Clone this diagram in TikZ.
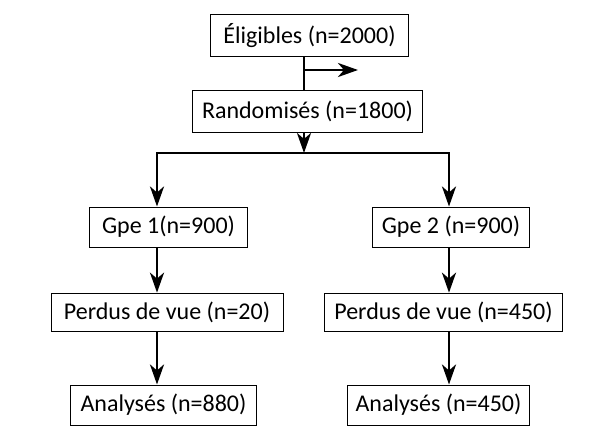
\documentclass[tikz,border=0pt]{standalone}
\usepackage{fontspec}
\setmainfont{Carlito}
\usetikzlibrary{arrows.meta}

\begin{document}
\begin{tikzpicture}[
      x = 0.75pt, y = -0.75pt,
      font = \fontsize{18}{21}\selectfont,
      box/.style  = {draw = black, line width = .75pt, inner sep = 0pt,
                     minimum height = 30pt},
      wire/.style = {line width = 2.2pt, line cap = rect},
      arr/.style  = {-{Stealth[length = 15pt, width = 10.5pt, inset = 4.5pt]},
                     line width = 2.2pt}
    ]
  \useasboundingbox (0,0) rectangle (590,439);

  % top -----------------------------------------------------------------
  \node[box, minimum width = 148pt, minimum height = 31pt] (elig) at (309.5,35.5)
        {Éligibles (n=2000)};
  \node[box, minimum width = 172pt, minimum height = 32pt] (rand) at (307.5,111.5)
        {Randomisés (n=1800)};

  \coordinate (side) at (304,70);
  \coordinate (exit) at (358,70);
  \coordinate (bar)  at (304,153);
  \coordinate (barL) at (157,153);
  \coordinate (barR) at (449,153);

  \draw[wire, line cap = butt] (elig.south -| bar) -- (rand.north -| bar);
  \draw[arr] (side) -- (exit);
  \draw[arr] (rand.south -| bar) -- (bar);
  \draw[wire] (barL) -- (barR);

  % groups --------------------------------------------------------------
  \node[box, minimum width = 119pt] (gpe1) at (168.5,227) {Gpe 1(n=900)};
  \node[box, minimum width = 118pt] (gpe2) at (451,227)   {Gpe 2 (n=900)};

  \draw[arr] (barL) -- (gpe1.north -| barL);
  \draw[arr] (barR) -- (gpe2.north -| barR);

  % lost to follow-up ---------------------------------------------------
  \node[box, minimum width = 174pt, minimum height = 29pt] (perd1) at (167,312.5)
        {Perdus de vue (n=20)};
  \node[box, minimum width = 178pt, minimum height = 29pt] (perd2) at (443.5,312.5)
        {Perdus de vue (n=450)};

  \draw[arr] (gpe1.south -| barL) -- (perd1.north -| barL);
  \draw[arr] (gpe2.south -| barR) -- (perd2.north -| barR);

  % analysed ------------------------------------------------------------
  \node[box, minimum width = 140pt] (anal1) at (163.5,405) {Analysés (n=880)};
  \node[box, minimum width = 137pt] (anal2) at (438.5,405) {Analysés (n=450)};

  \draw[arr] (perd1.south -| barL) -- (anal1.north -| barL);
  \draw[arr] (perd2.south -| barR) -- (anal2.north -| barR);

\end{tikzpicture}
\end{document}
